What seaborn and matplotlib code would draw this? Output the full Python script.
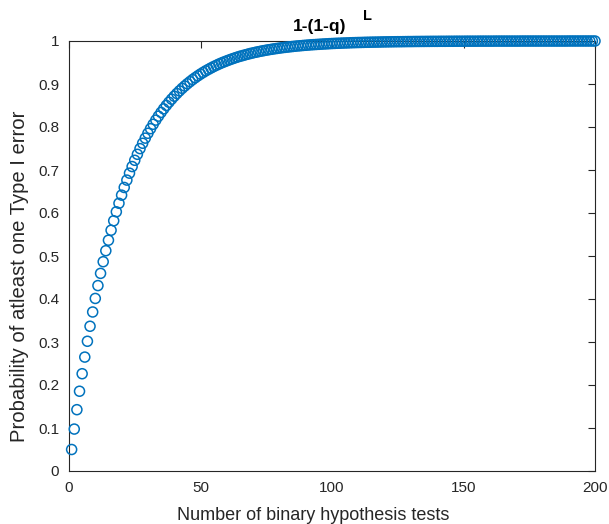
import matplotlib
matplotlib.use("Agg")
import matplotlib.pyplot as plt
import seaborn as sns
import pandas as pd

sns.set_theme(style="white")
plt.rcParams['font.family'] = ['Liberation Sans', 'DejaVu Sans']

num_tests = list(range(1, 201))
prob_error = [
    0.0500, 0.0975, 0.1426, 0.1855, 0.2262, 0.2649, 0.3017, 0.3366, 0.3698, 0.4013,
    0.4312, 0.4596, 0.4867, 0.5123, 0.5367, 0.5599, 0.5819, 0.6028, 0.6226, 0.6415,
    0.6594, 0.6765, 0.6926, 0.7080, 0.7226, 0.7365, 0.7497, 0.7622, 0.7741, 0.7854,
    0.7961, 0.8063, 0.8160, 0.8252, 0.8339, 0.8422, 0.8501, 0.8576, 0.8647, 0.8715,
    0.8779, 0.8840, 0.8898, 0.8953, 0.9006, 0.9055, 0.9103, 0.9147, 0.9190, 0.9231,
    0.9269, 0.9306, 0.9340, 0.9373, 0.9405, 0.9434, 0.9463, 0.9490, 0.9515, 0.9539,
    0.9562, 0.9584, 0.9605, 0.9625, 0.9644, 0.9661, 0.9678, 0.9694, 0.9710, 0.9724,
    0.9738, 0.9751, 0.9764, 0.9775, 0.9787, 0.9797, 0.9807, 0.9817, 0.9826, 0.9835,
    0.9843, 0.9851, 0.9858, 0.9865, 0.9872, 0.9879, 0.9885, 0.9890, 0.9896, 0.9901,
    0.9906, 0.9911, 0.9915, 0.9919, 0.9923, 0.9927, 0.9931, 0.9934, 0.9938, 0.9941,
    0.9944, 0.9947, 0.9949, 0.9952, 0.9954, 0.9956, 0.9959, 0.9961, 0.9963, 0.9965,
    0.9966, 0.9968, 0.9970, 0.9971, 0.9973, 0.9974, 0.9975, 0.9976, 0.9978, 0.9979,
    0.9980, 0.9981, 0.9982, 0.9983, 0.9984, 0.9984, 0.9985, 0.9986, 0.9987, 0.9987,
    0.9988, 0.9989, 0.9989, 0.9990, 0.9990, 0.9991, 0.9991, 0.9992, 0.9992, 0.9992,
    0.9993, 0.9993, 0.9993, 0.9994, 0.9994, 0.9994, 0.9995, 0.9995, 0.9995, 0.9995,
    0.9996, 0.9996, 0.9996, 0.9996, 0.9996, 0.9997, 0.9997, 0.9997, 0.9997, 0.9997,
    0.9997, 0.9998, 0.9998, 0.9998, 0.9998, 0.9998, 0.9998, 0.9998, 0.9998, 0.9998,
    0.9998, 0.9999, 0.9999, 0.9999, 0.9999, 0.9999, 0.9999, 0.9999, 0.9999, 0.9999,
    0.9999, 0.9999, 0.9999, 0.9999, 0.9999, 0.9999, 0.9999, 0.9999, 0.9999, 1.0000,
    1.0000, 1.0000, 1.0000, 1.0000, 1.0000, 1.0000, 1.0000, 1.0000, 1.0000, 1.0000,
]
x_ticks = [0, 50, 100, 150, 200]
y_ticks = [0, 0.1, 0.2, 0.3, 0.4, 0.5, 0.6, 0.7, 0.8, 0.9, 1]
y_tick_labels = ['0', '0.1', '0.2', '0.3', '0.4', '0.5', '0.6', '0.7', '0.8', '0.9', '1']

df = pd.DataFrame({'L': num_tests, 'p': prob_error})

fig = plt.figure(figsize=(6.09, 5.24), dpi=100)
ax = fig.add_axes([69/609, 1-471/524, (595-69)/609, (471-41)/524])

sns.scatterplot(data=df, x='L', y='p', ax=ax, marker='o', s=52,
                facecolors='none', edgecolor='#0072BD', linewidth=1.1,
                legend=False, clip_on=False, zorder=3)

ax.set_xlim(0, 200)
ax.set_ylim(0, 1)
ax.set_xticks(x_ticks)
ax.set_xticklabels([str(t) for t in x_ticks])
ax.set_yticks(y_ticks)
ax.set_yticklabels(y_tick_labels)

axis_col = '#262626'
for sp in ax.spines.values():
    sp.set_visible(True)
    sp.set_color(axis_col)
    sp.set_linewidth(0.8)
ax.tick_params(direction='in', length=5, width=0.8, colors=axis_col,
               labelsize=11, top=True, right=True, pad=7)
for lbl in ax.get_xticklabels() + ax.get_yticklabels():
    lbl.set_color('#262626')
ax.grid(False)

ax.set_xlabel('Number of binary hypothesis tests', fontsize=13, color='#262626')
ax.set_ylabel('Probability of atleast one Type I error', fontsize=14.6, color='#262626')
ax.xaxis.set_label_coords((313.5-69)/526, (471-507)/430)
ax.yaxis.set_label_coords((29-69)/526, (471-276)/430)

fig.text(320/609, 1-27/524, '1-(1-q)', fontsize=12.5, fontweight='bold',
         ha='center', va='center', color='black')
fig.text(367/609, 1-16.5/524, 'L', fontsize=10.5, fontweight='bold',
         ha='center', va='center', color='black')

fig.savefig('out.png', dpi=100)
